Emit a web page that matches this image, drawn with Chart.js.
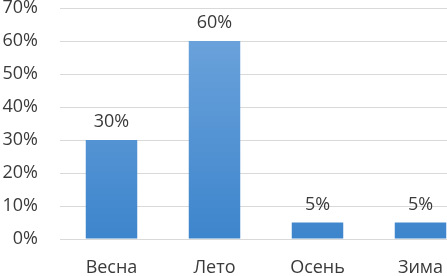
<!DOCTYPE html>
<html>
<head>
<meta charset="utf-8">
<script src="https://cdn.jsdelivr.net/npm/chart.js@4"></script>
<style>
  html, body { margin: 0; padding: 0; background: #fff; overflow: hidden; }
  #wrap { width: 447px; height: 276px; overflow: hidden; }
</style>
</head>
<body>
<div id="wrap"><canvas id="barChart" width="480" height="276"></canvas></div>
<script>
const seasons = ['Весна', 'Лето', 'Осень', 'Зима'];
const shares = [30, 60, 5, 5];
const yTicks = [0, 10, 20, 30, 40, 50, 60, 70];

const FONT = "'Open Sans', 'DejaVu Sans', sans-serif";

// подписи над столбцами
const valueLabels = {
    id: 'valueLabels',
    afterDatasetsDraw(chart) {
        const ctx = chart.ctx;
        const meta = chart.getDatasetMeta(0);
        ctx.save();
        ctx.font = '18px ' + FONT;
        ctx.fillStyle = '#3a3a3a';
        ctx.textAlign = 'center';
        ctx.textBaseline = 'alphabetic';
        meta.data.forEach((bar, i) => {
            ctx.fillText(shares[i] + '%', bar.x, bar.y - 13);
        });
        ctx.restore();
    }
};

const CHART = document.getElementById('barChart');
let barChart = new Chart(CHART, {
    type: 'bar',
    data: {
        labels: seasons,
        datasets: [{
            data: shares,
            backgroundColor: (c) => {
                const area = c.chart.chartArea;
                if (!area) return '#5b9bd5';
                const g = c.chart.ctx.createLinearGradient(0, area.top, 0, area.bottom);
                g.addColorStop(0, '#71a6dd');
                g.addColorStop(1, '#3d85cc');
                return g;
            },
            barPercentage: 0.5,
            categoryPercentage: 1
        }]
    },
    options: {
        responsive: false,
        animation: false,
        layout: { padding: { top: 8, right: 8, left: 0, bottom: 0 } },
        plugins: {
            legend: { display: false },
            tooltip: { enabled: false }
        },
        scales: {
            x: {
                grid: { display: false },
                border: { color: '#d9d9d9' },
                ticks: { color: '#3a3a3a', font: { family: FONT, size: 18 }, padding: 10 },
                afterFit(scale) { scale.height = 37; }
            },
            y: {
                min: 0,
                max: 70,
                afterBuildTicks(scale) { scale.ticks = yTicks.map(v => ({ value: v })); },
                grid: { color: '#d9d9d9', drawTicks: false },
                border: { display: false },
                ticks: {
                    color: '#3a3a3a',
                    font: { family: FONT, size: 18 },
                    padding: 22,
                    callback: (v) => v + '%'
                },
                afterFit(scale) {
                    scale.width = 60;
                    scale.paddingTop = 0;
                    scale.paddingBottom = 0;
                }
            }
        }
    },
    plugins: [valueLabels]
});
</script>
</body>
</html>
